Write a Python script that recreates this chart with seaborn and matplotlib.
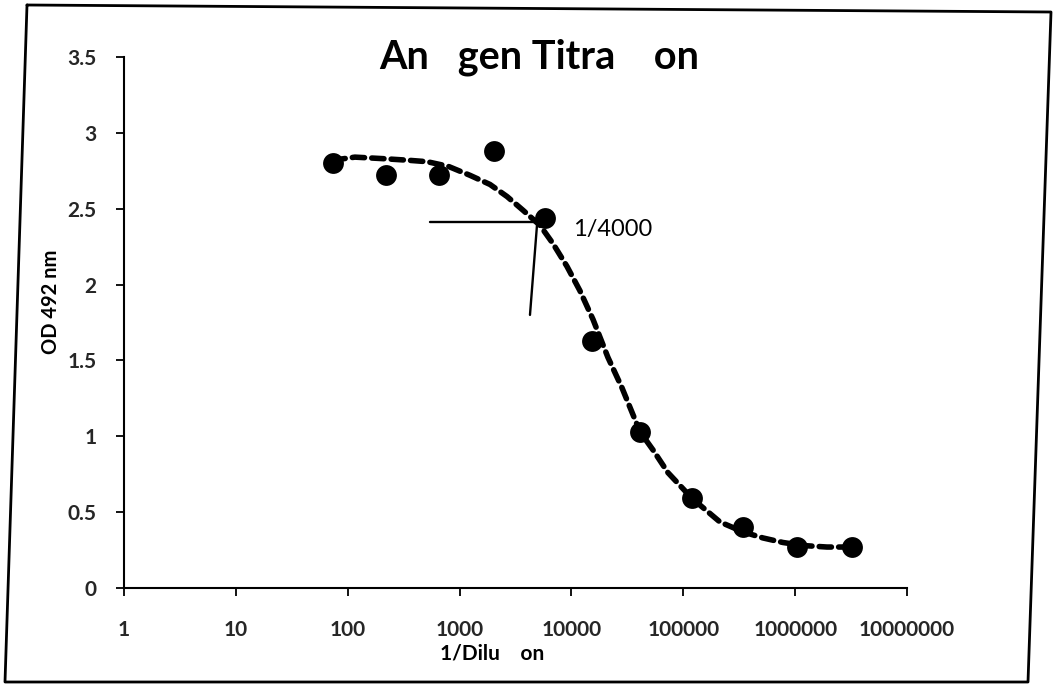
import matplotlib
matplotlib.use("Agg")
import matplotlib.pyplot as plt
from matplotlib.lines import Line2D
from matplotlib.ticker import FixedLocator, FixedFormatter, NullLocator
import seaborn as sns
import pandas as pd

# ---- data ----
dilution = [74, 220, 655, 2030, 5800, 15300, 41000, 120000, 342000, 1040000, 3220000]
od492 = [2.80, 2.72, 2.72, 2.88, 2.44, 1.63, 1.03, 0.59, 0.40, 0.27, 0.27]

fit_x = [74, 116, 207, 339, 512, 788, 1240, 1870, 2660, 3690, 5240, 6840, 9120,
         11900, 15600, 21200, 28300, 41000, 53600, 73000, 120000, 213000, 342000,
         515000, 778000, 1175000, 1928000, 3090000]
fit_y = [2.82, 2.84, 2.83, 2.82, 2.81, 2.78, 2.72, 2.66, 2.58, 2.49, 2.39, 2.27, 2.12,
         1.96, 1.77, 1.52, 1.32, 1.03, 0.91, 0.76, 0.59, 0.435, 0.37,
         0.33, 0.30, 0.28, 0.27, 0.27]

hline_x = [544, 4720]
hline_y = [2.41, 2.41]
vline_x = [4920, 4260]
vline_y = [2.39, 1.80]
annot_label = "1/4000"
annot_pos = (10300, 2.36)

x_ticks = [1, 10, 100, 1000, 10000, 100000, 1000000, 10000000]
x_ticklabels = ["1", "10", "100", "1000", "10000", "100000", "1000000", "10000000"]
y_ticks = [0, 0.5, 1, 1.5, 2, 2.5, 3, 3.5]
y_ticklabels = ["0", "0.5", "1", "1.5", "2", "2.5", "3", "3.5"]

title = "An   gen Titra    on"
xlabel = "1/Dilu    on"
ylabel = "OD 492 nm"

# ---- style ----
sns.set_theme(style="white")
plt.rcParams["font.family"] = ["Lato", "DejaVu Sans"]

W, H = 1055, 684
fig = plt.figure(figsize=(W / 100, H / 100), dpi=100)
fig.patch.set_facecolor("white")
ax = fig.add_axes([124 / W, 1 - 588 / H, (907 - 124) / W, (588 - 57) / H])
ax.set_facecolor("white")

pts = pd.DataFrame({"dilution": dilution, "od": od492})
fit = pd.DataFrame({"x": fit_x, "y": fit_y})

sns.lineplot(data=fit, x="x", y="y", ax=ax, color="black", lw=4, sort=False,
             dashes=False, zorder=2)
ax.lines[-1].set_dashes((2.2, 1.3))
ax.lines[-1].set_dash_capstyle("round")
sns.scatterplot(data=pts, x="dilution", y="od", ax=ax, color="black", s=225,
                edgecolor="black", linewidth=0, zorder=3)

ax.plot(hline_x, hline_y, color="black", lw=1.7, zorder=4)
ax.plot(vline_x, vline_y, color="black", lw=1.7, zorder=4)
ax.text(annot_pos[0], annot_pos[1], annot_label, fontsize=17, ha="left",
        va="center", color="black")

ax.set_xscale("log")
ax.set_xlim(1, 10000000)
ax.set_ylim(0, 3.5)
ax.xaxis.set_major_locator(FixedLocator(x_ticks))
ax.xaxis.set_major_formatter(FixedFormatter(x_ticklabels))
ax.xaxis.set_minor_locator(NullLocator())
ax.yaxis.set_major_locator(FixedLocator(y_ticks))
ax.yaxis.set_major_formatter(FixedFormatter(y_ticklabels))

for s in ["top", "right"]:
    ax.spines[s].set_visible(False)
for s in ["left", "bottom"]:
    ax.spines[s].set_color("black")
    ax.spines[s].set_linewidth(1.5)

ax.tick_params(axis="x", direction="out", length=6, width=1.3, color="black",
               pad=17, labelsize=15, bottom=True)
ax.tick_params(axis="y", direction="out", length=6, width=1.3, color="black",
               pad=14, labelsize=15, left=True)
for lab in ax.get_xticklabels() + ax.get_yticklabels():
    lab.set_fontweight("bold")

ax.set_xlabel(xlabel, fontsize=15, fontweight="bold", color="black")
ax.xaxis.set_label_coords((492 - 124) / 783, -0.105)
ax.set_ylabel(ylabel, fontsize=14.5, fontweight="bold", color="black")
ax.yaxis.set_label_coords(-(124 - 61) / 783, (588 - 302) / 531)

ax.text((539 - 124) / 783, (588 - 68) / 531, title, transform=ax.transAxes,
        fontsize=28.5, fontweight="bold", ha="center", va="baseline", color="black")

# scanned outer frame
fx = [27 / W, 1051 / W, 1028 / W, 5 / W, 27 / W]
fy = [1 - 5 / H, 1 - 12 / H, 1 - 682 / H, 1 - 682 / H, 1 - 5 / H]
fig.add_artist(Line2D(fx, fy, transform=fig.transFigure, color="black", lw=2))

fig.savefig("out.png", dpi=100, facecolor="white")
